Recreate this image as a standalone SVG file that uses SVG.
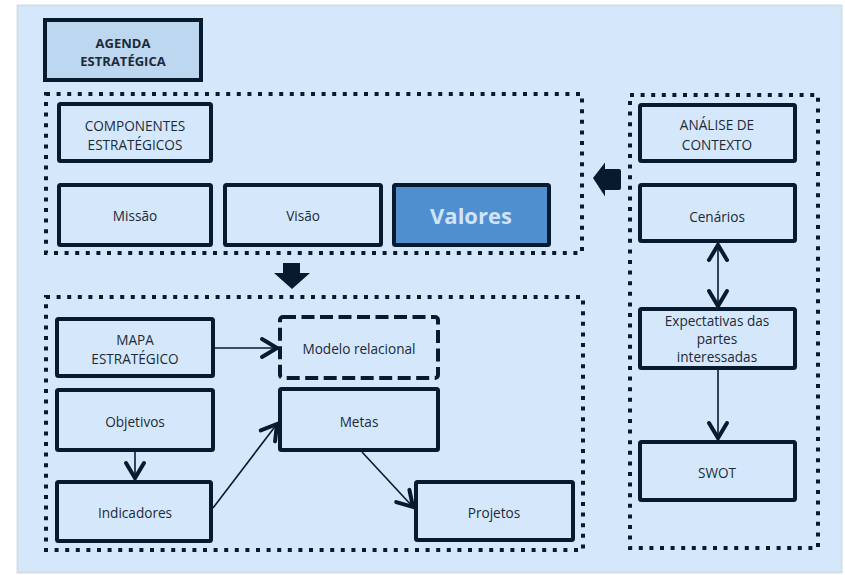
<svg xmlns="http://www.w3.org/2000/svg" width="845" height="575" viewBox="0 0 845 575">
<style>
.box{fill:#d5e8fb;stroke:#081a2e;stroke-width:4;}
.dot{fill:none;stroke:#081a2e;stroke-width:4;stroke-dasharray:4 6.6;}
.t{font-family:"Open Sans","Noto Sans",sans-serif;font-size:13.6px;fill:#1c2a38;text-anchor:middle;}
.b{font-weight:bold;}
.c{fill:none;stroke:#081a2e;stroke-width:1.6;}
</style>
<defs>
<marker id="ah" markerUnits="userSpaceOnUse" markerWidth="40" markerHeight="40" viewBox="-25 -20 40 40" refX="0" refY="0" orient="auto-start-reverse" overflow="visible">
<path d="M-15,-9 L0,0 L-15,9" fill="none" stroke="#081a2e" stroke-width="4" stroke-linecap="round" stroke-linejoin="miter"/>
</marker>
</defs>
<rect x="0" y="0" width="845" height="575" fill="#ffffff"/>
<rect x="17.5" y="5.5" width="824" height="567" fill="#d5e8fb" stroke="#d3dde8" stroke-width="2"/>

<g id="dotted-groups">
<rect class="dot" x="46" y="94" width="536" height="159"/>
<rect class="dot" x="630" y="95" width="188" height="453"/>
<rect class="dot" x="46" y="297" width="537" height="253"/>
</g>

<g id="agenda"><rect class="box" x="45" y="20" width="156" height="60" style="fill:#bdd7f1"/>
<text class="t b" x="123" y="47.5" style="font-size:13px">AGENDA</text><text class="t b" x="123" y="65.5" style="font-size:13px">ESTRATÉGICA</text></g>

<g id="componentes"><rect class="box" x="59" y="104" width="152" height="57" rx="1.5"/>
<text class="t" x="135" y="130.5">COMPONENTES</text><text class="t" x="135" y="149.5">ESTRATÉGICOS</text></g>
<g id="missao"><rect class="box" x="59" y="185" width="152" height="60" rx="1.5"/><text class="t" x="135" y="220.5">Missão</text></g>
<g id="visao"><rect class="box" x="225" y="185" width="156" height="60" rx="1.5"/><text class="t" x="303" y="220.5">Visão</text></g>
<g id="valores"><rect class="box" x="394" y="185" width="155" height="60" rx="1.5" style="fill:#4f8fcf"/><text class="t b" x="471" y="224" style="font-size:22px;fill:#cfe4f9">Valores</text></g>

<g id="analise"><rect class="box" x="640" y="105" width="155" height="56" rx="1.5"/>
<text class="t" x="717" y="129.5">ANÁLISE DE</text><text class="t" x="717" y="149.5">CONTEXTO</text></g>
<g id="cenarios"><rect class="box" x="640" y="185" width="155" height="56" rx="1.5"/><text class="t" x="717" y="221.5">Cenários</text></g>
<g id="expectativas"><rect class="box" x="640" y="309" width="155" height="59" rx="1.5"/>
<text class="t" x="717" y="325.5">Expectativas das</text><text class="t" x="717" y="343.5">partes</text><text class="t" x="717" y="361.5">interessadas</text></g>
<g id="swot"><rect class="box" x="640" y="442" width="155" height="58" rx="1.5"/><text class="t" x="717" y="477.5">SWOT</text></g>

<g id="mapa"><rect class="box" x="57" y="319" width="156" height="57" rx="1.5"/>
<text class="t" x="135" y="344.5">MAPA</text><text class="t" x="135" y="363.5">ESTRATÉGICO</text></g>
<g id="objetivos"><rect class="box" x="57" y="390" width="156" height="60" rx="1.5"/><text class="t" x="135" y="426.5">Objetivos</text></g>
<g id="indicadores"><rect class="box" x="57" y="482" width="154" height="59" rx="1.5"/><text class="t" x="135" y="517.5">Indicadores</text></g>
<g id="modelo"><rect class="box" x="280" y="317" width="158" height="61" rx="3" style="stroke-dasharray:13 5.5"/><text class="t" x="359" y="353.5">Modelo relacional</text></g>
<g id="metas"><rect class="box" x="280" y="389" width="158" height="61" rx="1.5"/><text class="t" x="359" y="426.5">Metas</text></g>
<g id="projetos"><rect class="box" x="416" y="482" width="157" height="58" rx="1.5"/><text class="t" x="494" y="517.5">Projetos</text></g>

<g id="connectors">
<path d="M593,178 L605,162.5 L605,169 L619,169 Q621,169 621,171 L621,188 Q621,190 619,190 L605,190 L605,196.5 Z" fill="#081a2e"/>
<path d="M283,263 L300,263 L300,273 L310,273 L292,289 L274,273 L283,273 Z" fill="#081a2e"/>
<line class="c" x1="213" y1="348" x2="277" y2="348" marker-end="url(#ah)"/>
<line class="c" x1="135" y1="450" x2="135" y2="478" marker-end="url(#ah)"/>
<line class="c" x1="213" y1="508" x2="277" y2="424" marker-end="url(#ah)"/>
<line class="c" x1="362" y1="452" x2="413" y2="507" marker-end="url(#ah)"/>
<line class="c" x1="718" y1="245" x2="718" y2="306" marker-start="url(#ah)" marker-end="url(#ah)"/>
<line class="c" x1="718" y1="368" x2="718" y2="438" marker-end="url(#ah)"/>
</g>
</svg>
